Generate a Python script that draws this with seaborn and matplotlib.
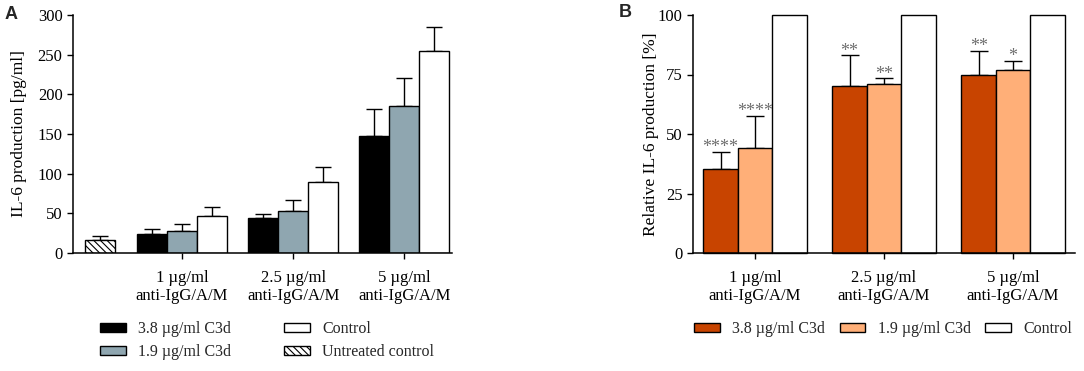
import numpy as np
import pandas as pd
import matplotlib
matplotlib.use("Agg")
import matplotlib.pyplot as plt
from matplotlib.patches import Patch
import seaborn as sns

# --- data ---
groups = ["1 µg/ml\nanti-IgG/A/M", "2.5 µg/ml\nanti-IgG/A/M", "5 µg/ml\nanti-IgG/A/M"]
treatments = ["3.8 µg/ml C3d", "1.9 µg/ml C3d", "Control"]

# panel A: IL-6 production [pg/ml]
a_c3d_38 = [24, 44, 148]
a_c3d_38_sd = [6, 5, 34]
a_c3d_19 = [28, 53, 185]
a_c3d_19_sd = [9, 14, 35]
a_control = [47, 90, 254]
a_control_sd = [11, 19, 31]
untreated = [17]
untreated_sd = [5]

# panel B: relative IL-6 production [%]
b_c3d_38 = [35.5, 70, 75]
b_c3d_38_sd = [7, 13, 10]
b_c3d_19 = [44, 71, 77]
b_c3d_19_sd = [13.5, 2.4, 3.8]
b_control = [100, 100, 100]
b_control_sd = [0, 0, 0]
stars_38 = ["****", "**", "**"]
stars_19 = ["****", "**", "*"]

sns.set_theme(style="white")
plt.rcParams["font.family"] = ["Liberation Serif", "DejaVu Serif"]
plt.rcParams["axes.linewidth"] = 1.1
plt.rcParams["hatch.linewidth"] = 0.8

pal_a = {"3.8 µg/ml C3d": "#000000", "1.9 µg/ml C3d": "#8FA6B0", "Control": "#FFFFFF"}
pal_b = {"3.8 µg/ml C3d": "#C84400", "1.9 µg/ml C3d": "#FFAF78", "Control": "#FFFFFF"}

W, H = 1084, 371
fig = plt.figure(figsize=(W / 100, H / 100), dpi=100)
axA = fig.add_axes([73 / W, 1 - 253 / H, (452 - 73) / W, (253 - 15) / H])
axB = fig.add_axes([693 / W, 1 - 253 / H, (1075 - 693) / W, (253 - 15) / H])

pos = np.arange(len(groups))


def long_df(vals):
    rows = []
    for t, v in zip(treatments, vals):
        for p, y in zip(pos, v):
            rows.append({"pos": p, "treatment": t, "value": y})
    return pd.DataFrame(rows)


def add_errbars(ax, containers, sds, capsize):
    for cont, sd in zip(containers, sds):
        xs = [b.get_x() + b.get_width() / 2 for b in cont]
        ys = [b.get_height() for b in cont]
        ax.errorbar(xs, ys, yerr=[np.zeros(len(sd)), sd], fmt="none", ecolor="black",
                    elinewidth=1, capsize=capsize, capthick=1, zorder=1)


def style_axis(ax, ylabel, labelx):
    sns.despine(ax=ax)
    ax.spines["left"].set_color("black")
    ax.spines["bottom"].set_color("black")
    ax.tick_params(axis="both", direction="out", length=4, width=1, colors="black",
                   labelsize=12, bottom=True, left=True)
    ax.tick_params(axis="x", pad=8)
    ax.set_xticks(pos, groups)
    ax.set_xlabel("")
    ax.set_ylabel(ylabel, fontsize=12.5, color="black")
    ax.yaxis.set_label_coords(labelx, 0.5)
    ax.grid(False)


# ---- panel A ----
dfa = long_df([a_c3d_38, a_c3d_19, a_control])
sns.barplot(data=dfa, x="pos", y="value", hue="treatment", hue_order=treatments,
            palette=pal_a, native_scale=True, width=0.81, saturation=1,
            edgecolor="black", linewidth=1, errorbar=None, legend=False, ax=axA, zorder=2)
untreated_x = [-0.74]
sns.barplot(x=untreated_x, y=untreated, native_scale=True, width=0.27, color="white",
            saturation=1, edgecolor="black", linewidth=1, hatch="\\\\\\\\\\",
            errorbar=None, ax=axA, zorder=2)
add_errbars(axA, axA.containers[:3], [a_c3d_38_sd, a_c3d_19_sd, a_control_sd], 5.5)
add_errbars(axA, axA.containers[3:], [untreated_sd], 5.5)
axA.set_ylim(0, 300)
axA.set_yticks(range(0, 301, 50))
axA.set_xlim(-0.98, 2.43)
style_axis(axA, "IL-6 production [pg/ml]", -0.121)

# ---- panel B ----
dfb = long_df([b_c3d_38, b_c3d_19, b_control])
sns.barplot(data=dfb, x="pos", y="value", hue="treatment", hue_order=treatments,
            palette=pal_b, native_scale=True, width=0.8, saturation=1,
            edgecolor="black", linewidth=1, errorbar=None, legend=False, ax=axB, zorder=2)
add_errbars(axB, axB.containers[:2], [b_c3d_38_sd, b_c3d_19_sd], 6.5)
for cont, sd, stars in zip(axB.containers[:2], [b_c3d_38_sd, b_c3d_19_sd], [stars_38, stars_19]):
    for bar, s, st in zip(cont, sd, stars):
        axB.annotate(st, (bar.get_x() + bar.get_width() / 2, bar.get_height() + s),
                     xytext=(0, 3), textcoords="offset points", ha="center", va="center",
                     fontsize=13, color="#6E6E6E")
for bar in axB.patches:
    bar.set_clip_on(False)
axB.set_ylim(0, 100)
axB.set_yticks(range(0, 101, 25))
axB.set_xlim(-0.48, 2.48)
style_axis(axB, "Relative IL-6 production [%]", -0.089)

# ---- legends ----
def patch(c, hatch=None):
    return Patch(facecolor=c, edgecolor="black", linewidth=1, hatch=hatch)

handles_a = [patch(pal_a[t]) for t in treatments] + [patch("white", "\\\\\\\\\\")]
labels_a = treatments + ["Untreated control"]
# column-wise fill: 3.8, 1.9 | Control, Untreated
fig.legend(handles_a, labels_a, ncol=2, loc="upper left", bbox_to_anchor=(100 / W, 1 - 321 / H),
           frameon=False, fontsize=11.5, borderpad=0, handlelength=1.6, handleheight=0.45,
           handletextpad=0.8, columnspacing=3.3, labelspacing=0.45, borderaxespad=0)

handles_b = [patch(pal_b[t]) for t in treatments]
fig.legend(handles_b, treatments, ncol=3, loc="upper left", bbox_to_anchor=(694 / W, 1 - 321 / H),
           frameon=False, fontsize=11.5, borderpad=0, handlelength=1.6, handleheight=0.45,
           handletextpad=0.8, columnspacing=0.9, borderaxespad=0)

fig.text(5 / W, 1 - 6 / H, "A", fontsize=13, fontweight="bold", va="top", ha="left",
         family=["Liberation Sans", "DejaVu Sans"])
fig.text(619 / W, 1 - 4 / H, "B", fontsize=13, fontweight="bold", va="top", ha="left",
         family=["Liberation Sans", "DejaVu Sans"])

fig.savefig("out.png", dpi=100)
